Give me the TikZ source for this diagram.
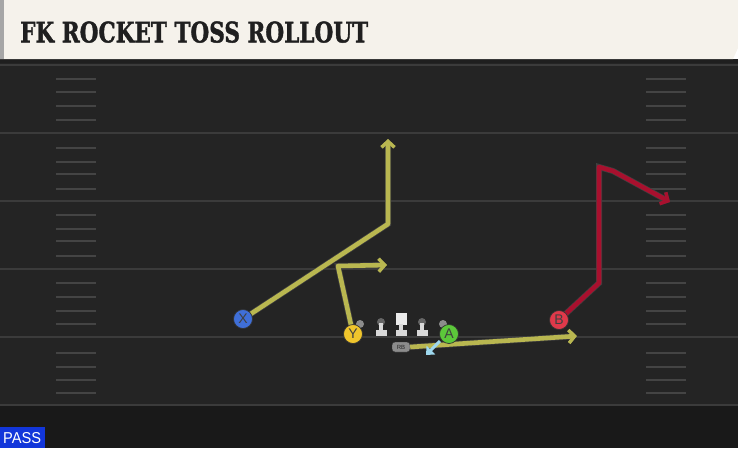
\documentclass[tikz,border=0pt]{standalone}
\usepackage{fontspec}
\setmainfont{DejaVu Serif}[BoldFeatures={FakeBold=1.6}]
\setsansfont{Liberation Sans}
\usetikzlibrary{arrows.meta}

\definecolor{fieldbg}{HTML}{242424}
\definecolor{fieldline}{HTML}{3B3B3B}
\definecolor{hashcol}{HTML}{444444}
\definecolor{headbg}{HTML}{F5F2EB}
\definecolor{routeyel}{HTML}{B9B750}
\definecolor{routered}{HTML}{A8102E}
\definecolor{tossblue}{HTML}{9ED8EE}
\definecolor{xblue}{HTML}{3F6FD8}
\definecolor{yyellow}{HTML}{F0C52C}
\definecolor{agreen}{HTML}{5CC83A}
\definecolor{bred}{HTML}{E0394A}
\definecolor{passblue}{HTML}{1236DA}

\tikzset{
  player/.style={circle, draw=black!80, line width=0.7pt, minimum size=19pt,
    inner sep=0pt, font=\sffamily\fontsize{14}{14}\selectfont, text=black!75},
  route/.style={line width=4.6pt, line join=round,
    preaction={draw=black!75, line width=6pt}},
  tip/.style={-{Straight Barb[length=6pt,width=13pt,line width=3.4pt]}}
}

\begin{document}
\begin{tikzpicture}[x=1pt, y=-1pt]
  \useasboundingbox (0,0) rectangle (738,448);

  % field
  \fill[fieldbg] (0,59) rectangle (738,448);
  \fill[black!90] (0,405) rectangle (738,448);
  \fill[black!88] (0,59) rectangle (738,63);
  \foreach \y in {65,133,201,269,337,405}
    \draw[fieldline, line width=2pt] (0,\y) -- (738,\y);
  \foreach \y in {79,92,106,120,148,162,174,189,215,229,241,256,283,297,311,324,353,367,380,393}
  {
    \draw[hashcol, line width=1.6pt] (56,\y) -- (96,\y);
    \draw[hashcol, line width=1.6pt] (646,\y) -- (686,\y);
  }

  % header
  \fill[headbg] (0,0) -- (738,0) -- (738,48) -- (733,59) -- (0,59) -- cycle;
  \fill[black!35] (0,0) rectangle (4,59);
  \node[anchor=south west, inner sep=0pt, text=black!88] (title) at (20,43)
    {\resizebox{348pt}{21pt}{\bfseries FK ROCKET TOSS ROLLOUT}};

  % offensive line
  \foreach \x in {381,422}
  {
    \fill[black!60] (\x,322) circle (4pt);
    \fill[black!15] (\x-2,323) rectangle (\x+2,331);
    \fill[black!15] (\x-5.5,330) rectangle (\x+5.5,336);
  }
  \fill[black!8] (395.5,313) rectangle (406.5,325);
  \fill[black!15] (399,324) rectangle (403,331);
  \fill[black!15] (395.5,330) rectangle (406.5,336);
  \fill[black!45] (360,324) circle (4pt);
  \fill[black!45] (443,324) circle (4pt);

  % backfield
  \node[draw=black!80, fill=black!45, rounded corners=3pt, minimum width=18pt,
    minimum height=10pt, inner sep=0pt, font=\sffamily\fontsize{6}{6}\selectfont,
    text=black!85] (RB) at (401,347) {RB};

  % routes
  \coordinate (xbreak) at (388,224);
  \coordinate (xend) at (388,139);
  \coordinate (ybreak) at (338,266);
  \coordinate (yend) at (387,265);
  \coordinate (rbend) at (577,336);
  \coordinate (bbreak) at (599,283);
  \coordinate (btop) at (599,167);
  \coordinate (bturn) at (613,171);
  \coordinate (bend) at (670,202);
  \coordinate (tossstart) at (440,341);
  \coordinate (tossend) at (426,355);

  \draw[route, routeyel, tip] (RB.east) -- (rbend);
  \draw[tossblue, line width=3pt, -{Triangle[length=7pt,width=12pt]}]
    (tossstart) -- (tossend);
  \draw[route, routeyel, tip] (243,319) -- (xbreak) -- (xend);
  \draw[route, routeyel, tip] (353,334) -- (ybreak) -- (yend);
  \draw[route, routered, tip] (559,320) -- (bbreak) -- (btop) -- (bturn) -- (bend);

  % skill players
  \node[player, fill=xblue] (X) at (243,319) {X};
  \node[player, fill=yyellow] (Y) at (353,334) {Y};
  \node[player, fill=agreen] (A) at (449,334) {A};
  \node[player, fill=bred] (B) at (559,320) {B};

  % play type
  \fill[passblue] (0,427) rectangle (45,448);
  \node[anchor=south west, inner sep=0pt, text=white] (ptype) at (3,444)
    {\resizebox{38pt}{11pt}{\sffamily PASS}};
\end{tikzpicture}
\end{document}
